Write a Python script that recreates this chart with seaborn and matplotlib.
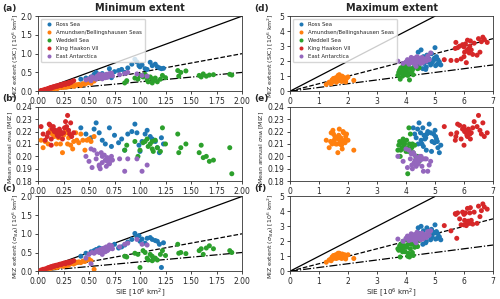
import numpy as np
import pandas as pd
import matplotlib.pyplot as plt
import seaborn as sns

regions = ["Ross Sea", "Amundsen/Bellingshausen Seas", "Weddell Sea",
           "King Haakon VII", "East Antarctica"]

# Ross Sea
ross_min_sie = [0.42, 0.47, 0.52, 0.55, 0.57, 0.60, 0.63, 0.66, 0.70, 0.72, 0.75, 0.82, 0.85, 0.88, 0.92,
                0.95, 0.97, 1.00, 1.02, 1.05, 1.07, 1.10, 1.12, 1.15, 1.17, 1.19, 1.21, 1.23, 0.79, 0.99]
ross_min_miz_sic = [0.32, 0.35, 0.38, 0.45, 0.50, 0.42, 0.47, 0.40, 0.60, 0.36, 0.52, 0.58, 0.50, 0.62, 0.72,
                    0.85, 0.78, 0.65, 0.70, 0.60, 0.58, 0.77, 0.68, 0.72, 0.65, 0.62, 0.60, 0.61, 0.55, 0.68]
ross_sigma = [0.223, 0.218, 0.215, 0.222, 0.227, 0.219, 0.213, 0.210, 0.223, 0.208, 0.217, 0.214, 0.205, 0.218, 0.220,
              0.226, 0.219, 0.204, 0.212, 0.218, 0.221, 0.216, 0.214, 0.212, 0.207, 0.203, 0.215, 0.210, 0.211, 0.209]
ross_min_miz_sig = [0.40, 0.48, 0.52, 0.55, 0.58, 0.62, 0.60, 0.55, 0.68, 0.66, 0.72, 0.65, 0.70, 0.78, 0.85,
                    1.01, 0.92, 0.80, 0.86, 0.75, 0.88, 0.90, 0.85, 0.82, 0.80, 0.72, 0.10, 0.76, 0.62, 0.95]
ross_max_sie = [4.25, 4.30, 4.35, 4.40, 4.45, 4.50, 4.52, 4.55, 4.58, 4.60, 4.62, 4.65, 4.70, 4.72, 4.75,
                4.80, 4.85, 4.88, 4.90, 4.95, 5.00, 5.02, 5.05, 5.08, 5.10, 5.15, 4.68, 4.42, 4.98, 5.20]
ross_max_miz_sic = [1.55, 2.00, 1.80, 2.20, 1.65, 1.90, 2.75, 2.10, 1.50, 2.30, 1.85, 2.05, 1.60, 2.40, 1.95,
                    2.15, 1.75, 2.50, 1.90, 2.05, 2.90, 1.70, 2.30, 1.80, 2.10, 1.95, 1.45, 2.60, 2.20, 1.75]
ross_max_miz_sig = [2.00, 2.40, 2.20, 2.60, 2.10, 2.30, 3.00, 2.50, 1.80, 2.70, 2.20, 2.40, 2.00, 2.90, 2.35,
                    2.50, 2.10, 2.80, 2.30, 2.60, 3.10, 2.15, 2.65, 2.20, 2.50, 2.30, 1.90, 2.90, 2.55, 2.10]

# Amundsen/Bellingshausen Seas
abs_min_sie = [0.03, 0.05, 0.07, 0.10, 0.12, 0.14, 0.16, 0.18, 0.20, 0.22, 0.24, 0.25, 0.27, 0.29, 0.30,
               0.32, 0.34, 0.35, 0.37, 0.38, 0.40, 0.42, 0.44, 0.46, 0.48, 0.50, 0.52, 0.55, 0.28, 0.19]
abs_min_miz_sic = [0.01, 0.02, 0.03, 0.04, 0.05, 0.06, 0.07, 0.08, 0.09, 0.10, 0.11, 0.10, 0.12, 0.13, 0.12,
                   0.14, 0.15, 0.13, 0.16, 0.17, 0.18, 0.15, 0.20, 0.19, 0.22, 0.24, 0.21, 0.27, 0.11, 0.07]
abs_sigma = [0.213, 0.207, 0.212, 0.210, 0.221, 0.218, 0.216, 0.210, 0.215, 0.210, 0.203, 0.217, 0.222, 0.210, 0.215,
             0.209, 0.206, 0.212, 0.219, 0.213, 0.211, 0.218, 0.213, 0.205, 0.213, 0.214, 0.212, 0.216, 0.219, 0.220]
abs_min_miz_sig = [0.02, 0.03, 0.04, 0.06, 0.07, 0.09, 0.10, 0.11, 0.12, 0.14, 0.15, 0.13, 0.17, 0.18, 0.16,
                   0.20, 0.21, 0.19, 0.22, 0.24, 0.25, 0.23, 0.27, 0.26, 0.30, 0.32, 0.28, 0.05, 0.15, 0.10]
abs_max_sie = [1.25, 1.35, 1.40, 1.45, 1.48, 1.50, 1.55, 1.58, 1.60, 1.62, 1.65, 1.68, 1.70, 1.72, 1.75,
               1.78, 1.80, 1.82, 1.85, 1.88, 1.90, 1.95, 2.00, 2.20, 1.52, 1.66, 1.74, 1.92, 1.42, 1.83]
abs_max_miz_sic = [0.45, 0.60, 0.55, 0.75, 0.65, 0.85, 0.70, 0.90, 0.60, 0.80, 0.95, 0.70, 1.10, 0.75, 0.85,
                   0.65, 1.00, 0.80, 0.70, 0.90, 0.75, 0.85, 0.95, 0.72, 0.68, 1.05, 0.78, 0.62, 0.50, 0.88]
abs_max_miz_sig = [0.60, 0.75, 0.80, 0.95, 0.85, 1.05, 0.90, 1.10, 0.85, 1.00, 1.15, 0.90, 1.20, 0.95, 1.05,
                   0.85, 1.15, 1.00, 0.90, 1.10, 0.95, 1.05, 1.10, 0.85, 0.88, 1.20, 0.98, 0.82, 0.70, 1.02]

# Weddell Sea
wed_min_sie = [0.85, 0.87, 0.95, 0.98, 1.00, 1.03, 1.05, 1.07, 1.08, 1.10, 1.12, 1.13, 1.15, 1.17, 1.20,
               1.22, 1.25, 1.37, 1.38, 1.40, 1.45, 1.58, 1.60, 1.62, 1.65, 1.68, 1.72, 1.88, 1.90, 1.12]
wed_min_miz_sic = [0.22, 0.28, 0.35, 0.32, 0.42, 0.38, 0.45, 0.30, 0.25, 0.38, 0.22, 0.28, 0.35, 0.25, 0.32,
                   0.42, 0.36, 0.55, 0.40, 0.50, 0.54, 0.42, 0.38, 0.46, 0.40, 0.43, 0.44, 0.45, 0.43, 0.33]
wed_sigma = [0.205, 0.209, 0.212, 0.200, 0.205, 0.211, 0.212, 0.214, 0.208, 0.210, 0.206, 0.204, 0.213, 0.207, 0.204,
             0.223, 0.210, 0.218, 0.203, 0.207, 0.210, 0.203, 0.209, 0.199, 0.200, 0.196, 0.197, 0.207, 0.186, 0.212]
wed_min_miz_sig = [0.40, 0.38, 0.48, 0.45, 0.10, 0.55, 0.50, 0.35, 0.30, 0.45, 0.28, 0.32, 0.35, 0.30, 0.45,
                   0.55, 0.42, 0.72, 0.48, 0.50, 0.47, 0.55, 0.60, 0.45, 0.62, 0.68, 0.60, 0.55, 0.50, 0.40]
wed_max_sie = [3.72, 3.75, 3.78, 3.80, 3.82, 3.85, 3.88, 3.90, 3.92, 3.95, 3.97, 4.00, 4.02, 4.05, 4.08,
               4.10, 4.12, 4.15, 4.18, 4.20, 4.22, 4.25, 4.30, 4.35, 4.40, 4.45, 4.48, 3.86, 4.06, 3.94]
wed_max_miz_sic = [1.05, 1.25, 1.40, 0.80, 1.55, 1.20, 1.00, 1.70, 1.30, 1.45, 1.10, 1.90, 1.35, 1.60, 1.15,
                   1.80, 0.75, 1.50, 1.25, 1.95, 1.40, 1.10, 1.65, 1.85, 1.50, 1.55, 1.95, 1.35, 1.05, 1.60]
wed_max_miz_sig = [1.50, 1.40, 1.70, 0.95, 1.80, 1.50, 1.30, 2.00, 1.55, 1.65, 1.30, 2.10, 1.60, 1.75, 1.20,
                   1.85, 0.95, 1.50, 1.10, 1.80, 1.25, 1.05, 1.60, 1.75, 1.65, 2.05, 2.20, 1.45, 1.00, 1.70]

# King Haakon VII
khs_min_sie = [0.03, 0.05, 0.07, 0.09, 0.10, 0.11, 0.12, 0.13, 0.14, 0.15, 0.16, 0.17, 0.18, 0.19, 0.20,
               0.21, 0.22, 0.23, 0.24, 0.25, 0.26, 0.27, 0.28, 0.29, 0.30, 0.31, 0.32, 0.33, 0.35, 0.13]
khs_min_miz_sic = [0.02, 0.03, 0.05, 0.06, 0.07, 0.08, 0.09, 0.10, 0.10, 0.12, 0.11, 0.13, 0.14, 0.13, 0.15,
                   0.16, 0.17, 0.15, 0.18, 0.19, 0.20, 0.18, 0.21, 0.22, 0.20, 0.24, 0.23, 0.25, 0.28, 0.08]
khs_sigma = [0.224, 0.218, 0.213, 0.216, 0.219, 0.226, 0.225, 0.214, 0.222, 0.224, 0.220, 0.221, 0.219, 0.217, 0.216,
             0.222, 0.220, 0.218, 0.214, 0.219, 0.223, 0.228, 0.224, 0.233, 0.221, 0.218, 0.227, 0.216, 0.219, 0.209]
khs_min_miz_sig = [0.03, 0.05, 0.06, 0.08, 0.09, 0.10, 0.11, 0.12, 0.12, 0.14, 0.13, 0.15, 0.16, 0.15, 0.17,
                   0.18, 0.19, 0.18, 0.20, 0.21, 0.22, 0.20, 0.23, 0.24, 0.22, 0.25, 0.24, 0.26, 0.28, 0.10]
khs_max_sie = [5.32, 5.55, 5.70, 5.72, 5.75, 5.78, 5.85, 5.90, 5.95, 6.00, 6.02, 6.05, 6.08, 6.10, 6.12,
               6.15, 6.18, 6.20, 6.22, 6.25, 6.30, 6.35, 6.45, 6.50, 6.55, 6.60, 6.65, 6.70, 6.80, 6.00]
khs_max_miz_sic = [2.10, 2.05, 2.85, 3.25, 2.05, 2.90, 3.00, 2.15, 3.10, 2.95, 2.60, 3.15, 1.90, 2.70, 3.40,
                   2.80, 2.55, 3.00, 3.35, 2.75, 2.45, 3.20, 2.40, 3.50, 2.60, 3.30, 3.60, 3.45, 3.25, 2.30]
khs_max_miz_sig = [3.05, 2.70, 3.85, 3.80, 2.20, 3.90, 3.50, 3.10, 3.95, 3.80, 3.40, 3.90, 3.05, 3.30, 4.20,
                   3.35, 3.20, 3.90, 4.25, 3.40, 3.15, 3.95, 3.20, 4.35, 3.65, 4.05, 4.50, 4.30, 4.15, 3.10]

# East Antarctica
ea_min_sie = [0.47, 0.50, 0.52, 0.53, 0.55, 0.57, 0.58, 0.60, 0.61, 0.62, 0.63, 0.65, 0.66, 0.67, 0.68,
              0.69, 0.70, 0.71, 0.72, 0.73, 0.63, 0.60, 0.80, 0.85, 0.88, 0.97, 1.02, 1.07, 0.68, 0.70]
ea_min_miz_sic = [0.30, 0.33, 0.28, 0.38, 0.35, 0.32, 0.40, 0.36, 0.42, 0.38, 0.44, 0.40, 0.36, 0.45, 0.42,
                  0.39, 0.47, 0.43, 0.48, 0.41, 0.33, 0.45, 0.44, 0.47, 0.50, 0.46, 0.42, 0.40, 0.37, 0.44]
ea_sigma = [0.200, 0.196, 0.206, 0.191, 0.205, 0.198, 0.202, 0.193, 0.190, 0.203, 0.195, 0.201, 0.197, 0.192, 0.199,
            0.196, 0.194, 0.198, 0.200, 0.197, 0.200, 0.192, 0.198, 0.188, 0.198, 0.198, 0.188, 0.193, 0.196, 0.195]
ea_min_miz_sig = [0.35, 0.45, 0.20, 0.50, 0.48, 0.52, 0.55, 0.50, 0.58, 0.55, 0.60, 0.62, 0.52, 0.65, 0.60,
                  0.58, 0.70, 0.62, 0.68, 0.60, 0.45, 0.55, 0.65, 0.72, 0.75, 0.85, 0.72, 0.70, 0.55, 0.62]
ea_max_sie = [3.72, 3.90, 4.00, 4.05, 4.10, 4.15, 4.18, 4.20, 4.22, 4.25, 4.28, 4.30, 4.32, 4.35, 4.38,
              4.40, 4.42, 4.45, 4.48, 4.50, 4.52, 4.55, 4.58, 4.60, 4.65, 4.70, 4.75, 4.80, 4.85, 4.35]
ea_max_miz_sic = [2.00, 1.85, 1.95, 2.10, 1.80, 2.00, 2.25, 1.90, 2.05, 2.15, 1.95, 2.20, 1.75, 2.05, 2.30,
                  1.95, 2.10, 2.00, 2.20, 1.85, 2.10, 2.25, 1.90, 2.05, 2.15, 2.00, 2.35, 2.10, 2.55, 1.65]
ea_max_miz_sig = [2.15, 2.00, 2.20, 2.35, 2.05, 2.25, 2.50, 2.10, 2.30, 2.40, 2.20, 2.45, 2.00, 2.30, 2.60,
                  2.20, 2.35, 2.25, 2.50, 2.10, 2.35, 2.55, 2.15, 2.30, 2.45, 2.25, 2.65, 2.40, 2.70, 1.90]

# tabla larga para seaborn
columnas = {
    "min_sie": [ross_min_sie, abs_min_sie, wed_min_sie, khs_min_sie, ea_min_sie],
    "min_miz_sic": [ross_min_miz_sic, abs_min_miz_sic, wed_min_miz_sic, khs_min_miz_sic, ea_min_miz_sic],
    "sigma": [ross_sigma, abs_sigma, wed_sigma, khs_sigma, ea_sigma],
    "min_miz_sig": [ross_min_miz_sig, abs_min_miz_sig, wed_min_miz_sig, khs_min_miz_sig, ea_min_miz_sig],
    "max_sie": [ross_max_sie, abs_max_sie, wed_max_sie, khs_max_sie, ea_max_sie],
    "max_miz_sic": [ross_max_miz_sic, abs_max_miz_sic, wed_max_miz_sic, khs_max_miz_sic, ea_max_miz_sic],
    "max_miz_sig": [ross_max_miz_sig, abs_max_miz_sig, wed_max_miz_sig, khs_max_miz_sig, ea_max_miz_sig],
}
df = pd.DataFrame({k: np.concatenate(v) for k, v in columnas.items()})
df["region"] = np.repeat(regions, [len(ross_min_sie), len(abs_min_sie), len(wed_min_sie),
                                   len(khs_min_sie), len(ea_min_sie)])

sns.set_style("ticks")
plt.rcParams["font.family"] = ["DejaVu Sans"]
palette = sns.color_palette("tab10", 5)

fig = plt.figure(figsize=(5, 2.99), dpi=100)
left_x, right_x = 0.076, 0.58
widths = (0.408, 0.406)
rows = [(0.695, 0.251), (0.394, 0.249), (0.093, 0.25)]

ylab_sic = "MIZ extent (SIC) [10$^6$ km$^2$]"
ylab_sigma = "Mean annual $\\sigma_{SIA}$ [MIZ]"
ylab_sig = "MIZ extent ($\\sigma_{SIA}$) [10$^6$ km$^2$]"

paneles = [
    # (col, fila, x, y, ylabel, etiqueta)
    (0, 0, "min_sie", "min_miz_sic", ylab_sic, "(a)"),
    (0, 1, "min_sie", "sigma", ylab_sigma, "(b)"),
    (0, 2, "min_sie", "min_miz_sig", ylab_sig, "(c)"),
    (1, 0, "max_sie", "max_miz_sic", ylab_sic, "(d)"),
    (1, 1, "max_sie", "sigma", ylab_sigma, "(e)"),
    (1, 2, "max_sie", "max_miz_sig", ylab_sig, "(f)"),
]

# posicion del ylabel (en coordenadas del eje) segun columna y fila
ylab_pos = {(0, 0): (-0.085, 0.47), (0, 1): (-0.112, 0.45), (0, 2): (-0.085, 0.47),
            (1, 0): (-0.068, 0.47), (1, 1): (-0.118, 0.45), (1, 2): (-0.068, 0.47)}

for col, fila, xc, yc, ylab, etiqueta in paneles:
    x0 = left_x if col == 0 else right_x
    b, h = rows[fila]
    ax = fig.add_axes([x0, b, widths[col], h])
    xmax = 2.0 if col == 0 else 7.0
    sns.scatterplot(data=df, x=xc, y=yc, hue="region", palette=palette, s=13,
                    linewidth=0, ax=ax, legend=(fila == 0), zorder=3)
    if fila != 1:
        ax.axline((0, 0), slope=1.0, color="black", lw=0.9)
        ax.axline((0, 0), slope=0.5, color="black", lw=0.9, ls="--")
        ax.axline((0, 0), slope=0.25, color="black", lw=0.9, ls="-.")
        if col == 0:
            ax.set_ylim(0, 2.0)
            yt = np.arange(0, 2.01, 0.5)
            ax.set_yticks(yt)
            ax.set_yticklabels([f"{v:.1f}" for v in yt])
        else:
            ax.set_ylim(0, 5.0)
            ax.set_yticks(range(0, 6))
    else:
        ax.set_ylim(0.18, 0.24)
        yt = [0.18, 0.19, 0.20, 0.21, 0.22, 0.23, 0.24]
        ax.set_yticks(yt)
        ax.set_yticklabels([f"{v:.2f}" for v in yt])
    ax.set_xlim(0, xmax)
    if col == 0:
        xt = np.arange(0, 2.01, 0.25)
        ax.set_xticks(xt)
        ax.set_xticklabels([f"{v:.2f}" for v in xt])
    else:
        ax.set_xticks(range(0, 8))
    ax.tick_params(labelsize=5.5, length=2.5, width=0.6, pad=1.5)
    for sp in ax.spines.values():
        sp.set_linewidth(0.6)
        sp.set_color("#333333")
    ax.set_ylabel(ylab, fontsize=4.5)
    # bajar un poco el ylabel para no pisar la etiqueta del panel
    ax.yaxis.set_label_coords(*ylab_pos[(col, fila)])
    if fila == 2:
        ax.set_xlabel("SIE [10$^6$ km$^2$]", fontsize=5.2, labelpad=0.5)
    else:
        ax.set_xlabel("")
    if fila == 0:
        ax.set_title("Minimum extent" if col == 0 else "Maximum extent",
                     fontsize=7, fontweight="bold", pad=3.5)
        ax.legend(loc="upper left", fontsize=3.9, frameon=True, markerscale=0.8,
                  handletextpad=0.2, borderpad=0.6, labelspacing=0.55, borderaxespad=0.5)
    # etiqueta de panel
    fx = 0.004 if col == 0 else 0.508
    fig.text(fx, b + h + 0.012, etiqueta, fontsize=6.5, fontweight="bold", va="bottom")

fig.savefig("out.png", dpi=100)
